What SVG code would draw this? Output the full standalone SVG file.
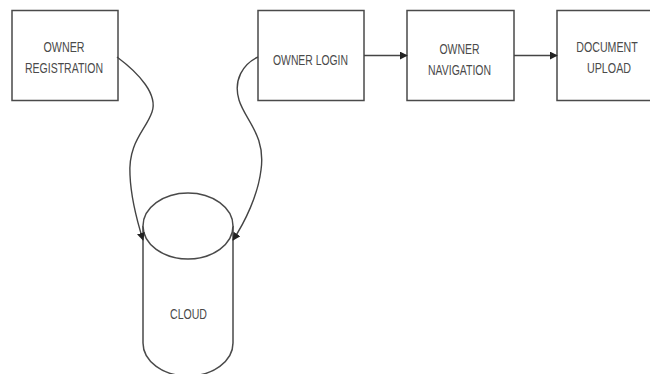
<svg xmlns="http://www.w3.org/2000/svg" width="650" height="374" viewBox="0 0 650 374">
<style>
.box{fill:#ffffff;stroke:#4a4a4a;stroke-width:1.5}
.lbl{font-family:"Liberation Sans",Arial,sans-serif;font-size:14px;fill:#4a4a4a;text-anchor:middle}
.edge{fill:none;stroke:#444444;stroke-width:1.4}
</style>
<defs>
<marker id="arr" viewBox="0 0 10 10" refX="9" refY="5" markerWidth="8" markerHeight="8" markerUnits="userSpaceOnUse" orient="auto">
<path d="M0,0 L10,5 L0,10 z" fill="#222222"/>
</marker>
</defs>
<rect width="650" height="374" fill="#ffffff"/>
<g id="owner-registration">
<rect class="box" x="12" y="10.5" width="106" height="90"/>
<text class="lbl" x="64" y="52" textLength="41" lengthAdjust="spacingAndGlyphs">OWNER</text>
<text class="lbl" x="64" y="73" textLength="78" lengthAdjust="spacingAndGlyphs">REGISTRATION</text>
</g>
<g id="owner-login">
<rect class="box" x="258" y="10.5" width="106" height="90"/>
<text class="lbl" x="310.5" y="65" textLength="75" lengthAdjust="spacingAndGlyphs">OWNER LOGIN</text>
</g>
<g id="owner-navigation">
<rect class="box" x="407" y="10.5" width="107" height="90"/>
<text class="lbl" x="459.5" y="53.5" textLength="40" lengthAdjust="spacingAndGlyphs">OWNER</text>
<text class="lbl" x="459.5" y="74.5" textLength="63" lengthAdjust="spacingAndGlyphs">NAVIGATION</text>
</g>
<g id="document-upload">
<rect class="box" x="557" y="10.5" width="107" height="90"/>
<text class="lbl" transform="translate(607,52) scale(0.76,1)" x="0" y="0">DOCUMENT</text>
<text class="lbl" x="609" y="73" textLength="44" lengthAdjust="spacingAndGlyphs">UPLOAD</text>
</g>
<g id="cloud">
<path class="box" d="M143,226 L143,343 A45,33 0 0 0 233,343 L233,226"/>
<ellipse class="box" cx="188" cy="226" rx="45" ry="33"/>
<text class="lbl" x="188.5" y="318.5" textLength="37" lengthAdjust="spacingAndGlyphs">CLOUD</text>
</g>
<g id="connectors">
<path class="edge" marker-end="url(#arr)" d="M117,57 C140,74 158,95 152,112 C146,130 128,142 130,175 C131,200 138,224 143,240"/>
<path class="edge" marker-end="url(#arr)" d="M258,57 C243,64 233,80 239,100 C245,120 266,135 261,170 C258,195 245,222 233,240"/>
<path class="edge" marker-end="url(#arr)" d="M364,55.5 L407,55.5"/>
<path class="edge" marker-end="url(#arr)" d="M514,55.5 L557,55.5"/>
</g>
</svg>
